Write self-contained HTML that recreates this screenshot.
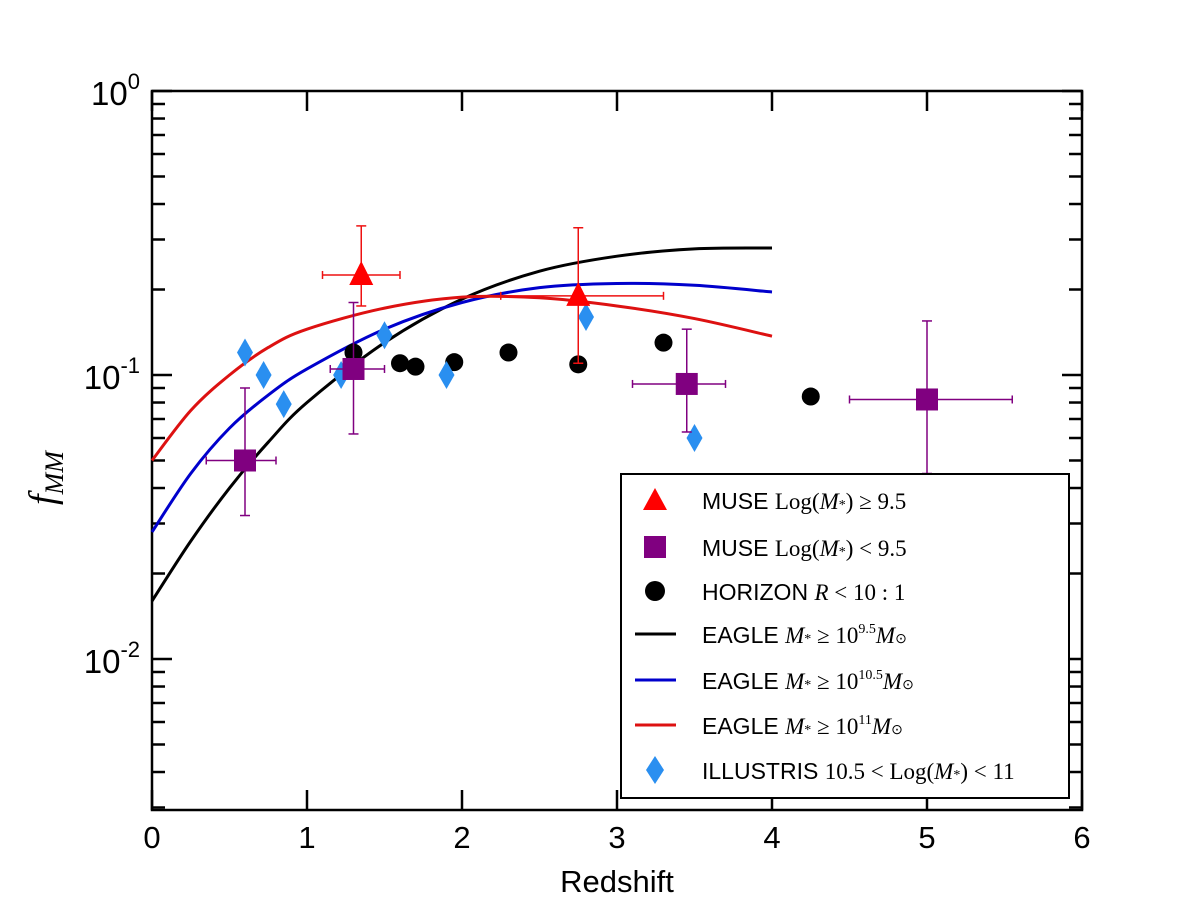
<!DOCTYPE html>
<html><head><meta charset="utf-8"><style>
body{margin:0;background:#fff;}
svg text{font-family:"Liberation Sans",sans-serif;}
</style></head><body>
<svg id="c" width="1200" height="900" xmlns="http://www.w3.org/2000/svg"></svg>
<script>
const xTicks=[0,1,2,3,4,5,6];
const yDecades=[0,-1,-2];
const museHigh=[[1.35,0.225,1.1,1.6,0.175,0.335],[2.75,0.19,2.25,3.3,0.11,0.33]];
const museLow=[[0.6,0.05,0.35,0.8,0.032,0.09],[1.3,0.105,1.15,1.5,0.062,0.18],[3.45,0.093,3.1,3.7,0.063,0.145],[5.0,0.082,4.5,5.55,0.045,0.155]];
const horizonX=[1.3,1.6,1.7,1.95,2.3,2.75,3.3,4.25];
const horizonY=[0.12,0.11,0.107,0.111,0.12,0.109,0.13,0.084];
const illX=[0.6,0.72,0.85,1.22,1.5,1.9,2.8,3.5];
const illY=[0.12,0.1,0.079,0.1,0.138,0.1,0.16,0.06];
const eagleX=[0,0.25,0.5,0.75,1,1.5,2,2.5,3,3.5,4];
const eagleBlack=[0.016,0.026,0.04,0.058,0.08,0.13,0.185,0.232,0.262,0.278,0.28];
const eagleBlue=[0.028,0.045,0.065,0.085,0.105,0.145,0.18,0.203,0.21,0.207,0.196];
const eagleRed=[0.05,0.075,0.1,0.125,0.145,0.172,0.188,0.187,0.175,0.158,0.137];

const L=152,R=1082,T=91,B=810;
const X=v=>L+(R-L)*v/6;
const Y=v=>375-284*(Math.log10(v)+1);
const svg=document.getElementById('c');
const NS='http://www.w3.org/2000/svg';
function mk(tag,at,parent){const e=document.createElementNS(NS,tag);for(const k in at)e.setAttribute(k,at[k]);(parent||svg).appendChild(e);return e;}
function curve(xs,ys){const p=xs.map((x,i)=>[X(x),Y(ys[i])]);let d='M'+p[0];for(let i=0;i<p.length-1;i++){const p0=p[Math.max(0,i-1)],p1=p[i],p2=p[i+1],p3=p[Math.min(p.length-1,i+2)];d+=' C'+(p1[0]+(p2[0]-p0[0])/6)+','+(p1[1]+(p2[1]-p0[1])/6)+' '+(p2[0]-(p3[0]-p1[0])/6)+','+(p2[1]-(p3[1]-p1[1])/6)+' '+p2[0]+','+p2[1];}return d;}

let e=mk('rect',{x:L,y:T,width:R-L,height:B-T,fill:'none',stroke:'#000','stroke-width':2.5});

const ax=mk('g',{stroke:'#000','stroke-width':2.5});

xTicks.forEach(t=>{const x=X(t);mk('line',{x1:x,x2:x,y1:B,y2:B-20},ax);mk('line',{x1:x,x2:x,y1:T,y2:T+20},ax);
 const tx=mk('text',{x:x,y:B+38,'font-size':31,'text-anchor':'middle',fill:'#000'});tx.textContent=t;
 });
for(let d=-3;d<=0;d++){for(let m=1;m<10;m++){const v=m*Math.pow(10,d);const y=Y(v);if(y<T-1||y>B+1)continue;const len=m==1?20:13;
 mk('line',{x1:L,x2:L+len,y1:y,y2:y},ax);mk('line',{x1:R,x2:R-len,y1:y,y2:y},ax);}}
yDecades.forEach(d=>{const y=Y(Math.pow(10,d));const tx=mk('text',{x:140,y:y+14,'font-size':33,'text-anchor':'end',fill:'#000'});
 tx.innerHTML='10<tspan font-size="22" dy="-16">'+d+'</tspan>';});
e=mk('text',{x:617,y:892,'font-size':31,'text-anchor':'middle',fill:'#000'});e.textContent='Redshift';

e=mk('text',{x:0,y:0,'font-size':38,'font-style':'italic',fill:'#000',transform:'translate(55,505) rotate(-90)',style:'font-family:"Liberation Serif",serif'});
e.innerHTML='f<tspan font-size="26" dy="8">MM</tspan>';

[[eagleBlack,'#000','eagle-black-line'],[eagleBlue,'#0000cc','eagle-blue-line'],[eagleRed,'#dd1111','eagle-red-line']].forEach(c=>{
 const p=mk('path',{d:curve(eagleX,c[0]),fill:'none',stroke:c[1],'stroke-width':3});
 });
horizonX.forEach((x,i)=>{const c=mk('circle',{cx:X(x),cy:Y(horizonY[i]),r:9,fill:'#000'});
 });
illX.forEach((x,i)=>{const cx=X(x),cy=Y(illY[i]);const p=mk('polygon',{points:`${cx},${cy-14} ${cx+8},${cy} ${cx},${cy+14} ${cx-8},${cy}`,fill:'#2a8ff0'});
 });
function errbar(d,col,name){const g=mk('g',{stroke:col,'stroke-width':1.5});
 const x=X(d[0]),y=Y(d[1]),x1=X(d[2]),x2=X(d[3]),y1=Y(d[4]),y2=Y(d[5]);
 mk('line',{x1:x1,x2:x2,y1:y,y2:y},g);mk('line',{x1:x,x2:x,y1:y1,y2:y2},g);
 [x1,x2].forEach(xx=>mk('line',{x1:xx,x2:xx,y1:y-4,y2:y+4},g));[y1,y2].forEach(yy=>mk('line',{x1:x-5,x2:x+5,y1:yy,y2:yy},g));}
museLow.forEach(d=>{errbar(d,'#800080','muse-low');const x=X(d[0]),y=Y(d[1]);const r=mk('rect',{x:x-11,y:y-11,width:22,height:22,fill:'#800080'});
 });
museHigh.forEach(d=>{errbar(d,'#ee1111','muse-high');const x=X(d[0]),y=Y(d[1]);const p=mk('polygon',{points:`${x},${y-14} ${x+12},${y+10} ${x-12},${y+10}`,fill:'#ff0000'});
 });

const lg=mk('g',{});
mk('rect',{x:621,y:474,width:448,height:324,fill:'#fff',stroke:'#000','stroke-width':2},lg);
const items=[
 ['tri','MUSE <tspan font-family="Liberation Serif">Log(<tspan font-style="italic">M</tspan><tspan font-size="14">*</tspan>) ≥ 9.5</tspan>'],
 ['sq','MUSE <tspan font-family="Liberation Serif">Log(<tspan font-style="italic">M</tspan><tspan font-size="14">*</tspan>) &lt; 9.5</tspan>'],
 ['circ','HORIZON  <tspan font-family="Liberation Serif"><tspan font-style="italic">R</tspan> &lt; 10 : 1</tspan>'],
 ['#000','EAGLE  <tspan font-family="Liberation Serif"><tspan font-style="italic">M</tspan><tspan font-size="14">*</tspan> ≥ 10<tspan font-size="14" dy="-10">9.5</tspan><tspan dy="10" font-style="italic">M</tspan><tspan font-size="14">⊙</tspan></tspan>'],
 ['#0000cc','EAGLE  <tspan font-family="Liberation Serif"><tspan font-style="italic">M</tspan><tspan font-size="14">*</tspan> ≥ 10<tspan font-size="14" dy="-10">10.5</tspan><tspan dy="10" font-style="italic">M</tspan><tspan font-size="14">⊙</tspan></tspan>'],
 ['#dd1111','EAGLE  <tspan font-family="Liberation Serif"><tspan font-style="italic">M</tspan><tspan font-size="14">*</tspan> ≥ 10<tspan font-size="14" dy="-10">11</tspan><tspan dy="10" font-style="italic">M</tspan><tspan font-size="14">⊙</tspan></tspan>'],
 ['dia','ILLUSTRIS <tspan font-family="Liberation Serif">10.5 &lt; Log(<tspan font-style="italic">M</tspan><tspan font-size="14">*</tspan>) &lt; 11</tspan>']];
const ly=[500,547,591,634,680,725,770];
items.forEach((it,i)=>{const y=ly[i],mx=655;
 if(it[0]=='tri')mk('polygon',{points:`${mx},${y-12} ${mx+12},${y+10} ${mx-12},${y+10}`,fill:'#ff0000'},lg);
 else if(it[0]=='sq')mk('rect',{x:mx-11,y:y-11,width:22,height:22,fill:'#800080'},lg);
 else if(it[0]=='circ')mk('circle',{cx:mx,cy:y,r:10,fill:'#000'},lg);
 else if(it[0]=='dia')mk('polygon',{points:`${mx},${y-14} ${mx+9},${y} ${mx},${y+14} ${mx-9},${y}`,fill:'#2a8ff0'},lg);
 else mk('line',{x1:635,x2:676,y1:y,y2:y,stroke:it[0],'stroke-width':3},lg);
 const t=mk('text',{x:702,y:y+9,'font-size':23,fill:'#000','xml:space':'preserve'},lg);t.innerHTML=it[1];
 });
</script>
</body></html>
